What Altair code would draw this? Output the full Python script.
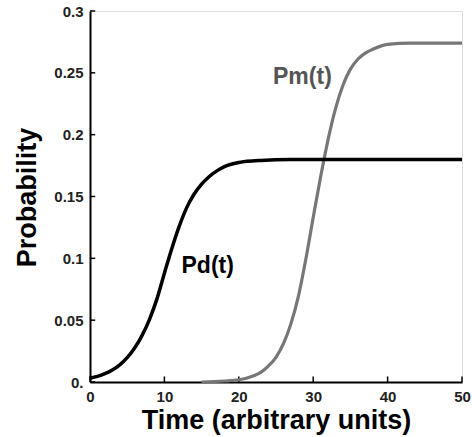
import altair as alt
import pandas as pd

# Pd(t) curve
pd_t = [0, 1, 2, 3, 4, 5, 6, 7, 8, 9, 10, 11, 12, 13, 14, 15, 16, 17, 18, 20, 23, 27, 35, 50]
pd_p = [0.003, 0.0045, 0.0067, 0.0097, 0.0139, 0.0197, 0.0275, 0.0377, 0.0507, 0.0672, 0.088, 0.108,
        0.126, 0.141, 0.152, 0.160, 0.166, 0.1705, 0.174, 0.1775, 0.1792, 0.1799, 0.180, 0.180]

# Pm(t) curve
pm_t = [15, 18, 20, 21, 22, 23, 24, 25, 26, 27, 28, 29, 30, 31, 32, 33, 34, 35, 36, 37, 38, 40, 43, 50]
pm_p = [0.0, 0.0008, 0.0018, 0.003, 0.005, 0.008, 0.013, 0.020, 0.031, 0.047, 0.069, 0.099,
        0.133, 0.166, 0.196, 0.221, 0.240, 0.253, 0.261, 0.266, 0.269, 0.273, 0.274, 0.274]

x_ticks = [0, 10, 20, 30, 40, 50]
y_ticks = [0, 0.05, 0.1, 0.15, 0.2, 0.25, 0.3]

label_text = ["Pd(t)", "Pm(t)"]
label_t = [12.3, 24.6]
label_p = [0.0935, 0.247]
label_col = ["#000000", "#555555"]

df_d = pd.DataFrame({"t": pd_t, "p": pd_p})
df_m = pd.DataFrame({"t": pm_t, "p": pm_p})
df_xt = pd.DataFrame({"t": x_ticks})
df_yt = pd.DataFrame({"p": y_ticks})
df_lab = pd.DataFrame({"t": label_t, "p": label_p, "txt": label_text, "c": label_col})

xs = alt.Scale(domain=[0, 50], nice=False)
ys = alt.Scale(domain=[0, 0.3], nice=False)

font = "Liberation Sans"

x_axis = alt.Axis(values=x_ticks, ticks=False, grid=False, labelFlush=False,
                  labelFont=font, labelFontSize=15, labelFontWeight="bold", labelColor="#222222",
                  labelPadding=7, domainColor="#000000", domainWidth=2,
                  title="Time (arbitrary units)", titleFont=font, titleFontSize=27,
                  titleFontWeight="bold", titleColor="#000000", titleY=46,
                  titleBaseline="alphabetic")
y_axis = alt.Axis(values=y_ticks, ticks=False, grid=False, labelFlush=False,
                  labelExpr="datum.value == 0 ? '0.' : format(datum.value, '~g')",
                  labelFont=font, labelFontSize=15, labelFontWeight="bold", labelColor="#222222",
                  labelPadding=7, domainColor="#000000", domainWidth=2,
                  title="Probability", titleFont=font, titleFontSize=27,
                  titleFontWeight="bold", titleColor="#000000", titleX=-55, titleY=186,
                  titleAngle=270, titleAlign="center", titleBaseline="alphabetic")

line_m = alt.Chart(df_m).mark_line(interpolate="monotone", strokeWidth=3.2, color="#777777").encode(
    x=alt.X("t:Q", scale=xs, axis=x_axis),
    y=alt.Y("p:Q", scale=ys, axis=y_axis),
)
line_d = alt.Chart(df_d).mark_line(interpolate="monotone", strokeWidth=3.5, color="#000000").encode(
    x=alt.X("t:Q", scale=xs),
    y=alt.Y("p:Q", scale=ys),
)

xtick = alt.Chart(df_xt).mark_rule(color="#000000", strokeWidth=1.5).encode(
    x=alt.X("t:Q", scale=xs),
    y=alt.datum(0),
    y2=alt.datum(0.0045),
)
ytick = alt.Chart(df_yt).mark_rule(color="#000000", strokeWidth=1.5).encode(
    y=alt.Y("p:Q", scale=ys),
    x=alt.datum(0),
    x2=alt.datum(0.7),
)

labels = alt.Chart(df_lab).mark_text(font=font, fontSize=23, fontWeight="bold",
                                     align="left", baseline="middle").encode(
    x=alt.X("t:Q", scale=xs),
    y=alt.Y("p:Q", scale=ys),
    text="txt:N",
    color=alt.Color("c:N", scale=None),
)

chart = alt.layer(xtick, ytick, line_m, line_d, labels).properties(
    width=372, height=371,
    padding={"left": 90, "top": 11, "right": 10, "bottom": 55},
    autosize=alt.AutoSizeParams(type="none"),
).configure_view(stroke="#444444", strokeWidth=2).configure(background="white")

chart.save("out.html", embed_options={"renderer": "svg", "actions": False})
